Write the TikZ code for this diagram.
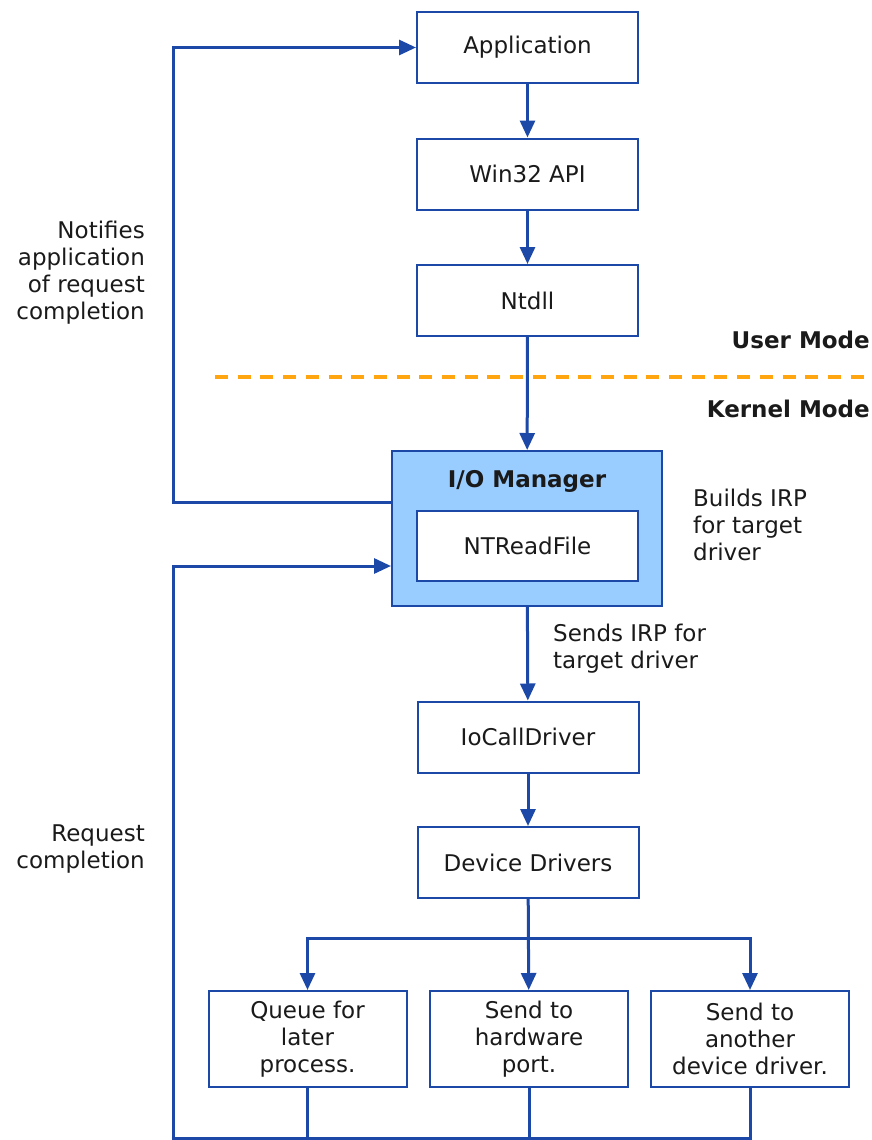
\documentclass[tikz,border=0pt]{standalone}
\usepackage{fontspec}
\setmainfont{DejaVu Sans}
\usetikzlibrary{arrows.meta}
\definecolor{lineblue}{HTML}{1C48A8}
\definecolor{mgrblue}{HTML}{99CCFF}
\definecolor{modeorange}{HTML}{FFA510}
\definecolor{txt}{HTML}{1A1A1A}
\tikzset{
  box/.style={draw=lineblue, line width=2pt, fill=white, minimum width=221pt, minimum height=71pt, inner sep=0pt, align=center, text=txt},
  small/.style={box, minimum width=198pt, minimum height=96pt},
  link/.style={draw=lineblue, line width=3pt, -{Triangle[length=17pt,width=15pt]}},
  wire/.style={draw=lineblue, line width=3pt},
  note/.style={text=txt, inner sep=0pt}
}
\begin{document}
\begin{tikzpicture}[x=1pt, y=-1pt, font=\fontsize{23}{27}\selectfont]
\useasboundingbox (0,0) rectangle (872,1140);
\node [box] (app) at (527.5, 47.5) {Application};
\node [box] (win) at (527.5, 174) {Win32 API};
\node [box] (ntdll) at (527.5, 300.5) {Ntdll};
\node [box, fill=mgrblue, minimum width=270pt, minimum height=155pt] (iom) at (527, 528.5) {};
\node [note, font=\fontsize{23}{27}\selectfont\bfseries] (iomlbl) at (527, 481) {I/O Manager};
\node [box, minimum height=70pt] (ntr) at (527.5, 546) {NTReadFile};
\node [box] (ioc) at (528, 737) {IoCallDriver};
\node [box] (dev) at (528, 862.5) {Device Drivers};
\node [small] (queue) at (307.5, 1039) {Queue for\\later\\process.};
\node [small] (hw) at (529, 1039) {Send to\\hardware\\port.};
\node [small] (other) at (750, 1039) {Send to\\another\\device driver.};
\draw [modeorange, line width=3.5pt, dash pattern=on 13pt off 9.7pt] (215, 377) -- (872, 377);
\node [note, anchor=east, font=\fontsize{23}{27}\selectfont\bfseries] (user) at (870, 340) {User Mode};
\node [note, anchor=east, font=\fontsize{23}{27}\selectfont\bfseries] (kernel) at (870, 409) {Kernel Mode};
\node [note, anchor=east, align=right] (notify) at (145, 273) {Notifies\\application\\of request\\completion};
\node [note, anchor=east, align=right] (reqc) at (145, 849) {Request\\completion};
\node [note, anchor=west, align=left] (builds) at (693, 525) {Builds IRP\\for target\\driver};
\node [note, anchor=west, align=left] (sends) at (553, 649) {Sends IRP for\\target driver};
\coordinate (nl) at (173, 502);
\coordinate (rl) at (173, 566);
\coordinate (bl) at (173, 1138);
\coordinate (br) at (528, 938);
\draw [link] (app) -- (win);
\draw [link] (win) -- (ntdll);
\draw [link] (ntdll) -- (iom);
\draw [link] (iom) -- (ioc);
\draw [link] (ioc) -- (dev);
\draw [link] (dev) -- (hw);
\draw [link] (br) -| (queue.north);
\draw [link] (br) -| (other.north);
\draw [link] (iom.west |- nl) -- (nl) |- (app.west);
\draw [link] (bl) -- (rl) -- (iom.west |- rl);
\draw [wire] ([xshift=-1.5pt]bl) -- ([xshift=1.5pt]other.south |- bl);
\foreach \b in {queue, hw, other}{\draw [wire] (\b.south) -- (\b.south |- bl);}
\end{tikzpicture}
\end{document}
